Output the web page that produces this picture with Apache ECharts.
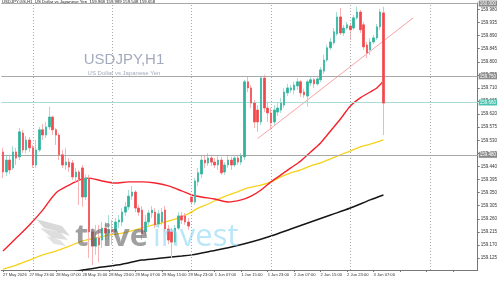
<!DOCTYPE html>
<html><head><meta charset="utf-8">
<script src="https://cdn.jsdelivr.net/npm/echarts@6/dist/echarts.min.js"></script>
<style>html,body{margin:0;padding:0;background:#fff}#c{width:500px;height:281px}</style>
</head><body><div id="c"></div>
<script>
// ---- data ----
const timeLabels = ['27 May 2026','27 May 23:00','28 May 07:00','28 May 15:00','28 May 23:00','29 May 07:00','29 May 15:00','29 May 23:00','1 Jun 07:00','1 Jun 15:00','1 Jun 23:00','2 Jun 07:00','2 Jun 15:00','2 Jun 23:00','3 Jun 07:00'];
const opens = [159.490,159.421,159.462,159.435,159.490,159.473,159.555,159.497,159.531,159.504,
159.445,159.497,159.566,159.548,159.576,159.610,159.566,159.548,159.480,159.445,
159.455,159.452,159.404,159.421,159.435,159.335,159.400,159.215,159.166,159.194,
159.187,159.228,159.211,159.222,159.215,159.249,159.249,159.283,159.301,159.338,
159.352,159.297,159.290,159.215,159.249,159.280,159.283,159.242,159.249,159.290,
159.225,159.215,159.180,159.228,159.270,159.270,159.249,159.335,159.318,159.387,
159.414,159.462,159.452,159.469,159.455,159.445,159.462,159.421,159.445,159.462,
159.445,159.469,159.455,159.473,159.731,159.710,159.658,159.634,159.593,159.744,
159.641,159.624,159.593,159.627,159.634,159.651,159.693,159.703,159.703,159.717,
159.731,159.696,159.682,159.727,159.738,159.724,159.738,159.768,159.806,159.848,
159.865,159.896,159.954,159.899,159.916,159.923,159.916,159.951,159.971,159.927,
159.858,159.841,159.868,159.882,159.920,159.968];
const closes = [159.421,159.462,159.428,159.490,159.469,159.559,159.497,159.531,159.504,159.445,
159.497,159.566,159.548,159.576,159.610,159.566,159.548,159.480,159.445,159.455,
159.438,159.404,159.421,159.394,159.335,159.400,159.215,159.166,159.194,159.170,
159.228,159.211,159.222,159.215,159.249,159.256,159.283,159.301,159.338,159.352,
159.297,159.283,159.208,159.249,159.280,159.290,159.239,159.277,159.283,159.225,
159.187,159.180,159.228,159.270,159.256,159.249,159.235,159.318,159.390,159.418,
159.462,159.452,159.469,159.455,159.445,159.462,159.418,159.445,159.462,159.445,
159.469,159.455,159.476,159.731,159.710,159.658,159.593,159.593,159.744,159.641,
159.624,159.590,159.634,159.641,159.658,159.696,159.710,159.710,159.720,159.731,
159.693,159.686,159.731,159.738,159.724,159.741,159.772,159.806,159.848,159.868,
159.903,159.954,159.899,159.916,159.927,159.910,159.951,159.971,159.910,159.851,
159.830,159.868,159.882,159.920,159.971,159.658];
const lows = [159.400,159.407,159.414,159.428,159.445,159.462,159.486,159.486,159.490,159.435,
159.435,159.490,159.531,159.538,159.566,159.548,159.514,159.462,159.435,159.428,
159.421,159.394,159.387,159.308,159.301,159.325,159.125,159.101,159.136,159.111,
159.160,159.187,159.187,159.170,159.201,159.228,159.235,159.270,159.290,159.325,
159.283,159.270,159.187,159.201,159.239,159.263,159.228,159.228,159.239,159.215,
159.173,159.125,159.170,159.222,159.242,159.239,159.222,159.308,159.308,159.373,
159.400,159.435,159.442,159.442,159.435,159.428,159.411,159.411,159.435,159.428,
159.438,159.445,159.445,159.462,159.696,159.641,159.572,159.559,159.583,159.627,
159.593,159.566,159.583,159.614,159.624,159.641,159.682,159.693,159.689,159.703,
159.679,159.676,159.645,159.717,159.710,159.717,159.731,159.758,159.799,159.841,
159.858,159.889,159.892,159.889,159.910,159.875,159.910,159.944,159.899,159.841,
159.813,159.824,159.861,159.875,159.910,159.548];
const highs = [159.504,159.480,159.480,159.510,159.504,159.572,159.566,159.545,159.541,159.514,
159.531,159.576,159.586,159.593,159.645,159.614,159.572,159.555,159.497,159.504,
159.469,159.462,159.435,159.428,159.445,159.411,159.411,159.228,159.239,159.239,
159.249,159.249,159.273,159.256,159.263,159.273,159.297,159.318,159.359,159.373,
159.359,159.308,159.304,159.273,159.290,159.304,159.297,159.290,159.297,159.304,
159.239,159.228,159.239,159.283,159.283,159.280,159.263,159.342,159.400,159.435,
159.480,159.480,159.486,159.480,159.469,159.480,159.473,159.455,159.480,159.473,
159.480,159.480,159.486,159.738,159.751,159.720,159.669,159.651,159.751,159.755,
159.662,159.641,159.651,159.658,159.676,159.710,159.724,159.720,159.731,159.744,
159.738,159.707,159.738,159.751,159.744,159.751,159.782,159.824,159.858,159.882,
159.916,159.971,159.985,159.927,159.937,159.930,159.961,159.989,159.978,159.937,
159.868,159.882,159.892,159.930,159.982,159.989];

// moving averages: [bar index, value]
const maRed = [[0,159.149],[4,159.194],[8,159.239],[12,159.290],[16,159.349],[20,159.376],[24,159.397],[26,159.400],[30,159.390],[34,159.383],[38,159.387],[42,159.387],[46,159.383],[50,159.373],[54,159.356],[57,159.342],[60,159.335],[64,159.328],[68,159.318],[72,159.325],[75,159.338],[78,159.359],[81,159.387],[84,159.411],[87,159.435],[90,159.459],[93,159.490],[96,159.521],[99,159.562],[102,159.603],[105,159.648],[108,159.676],[111,159.696],[113,159.710],[115,159.734]];
const maYellow = [[0,159.087],[4,159.101],[8,159.118],[12,159.136],[16,159.149],[20,159.166],[24,159.184],[28,159.194],[32,159.204],[36,159.211],[40,159.222],[44,159.235],[48,159.246],[52,159.259],[56,159.277],[59,159.297],[62,159.311],[66,159.332],[70,159.349],[74,159.366],[78,159.376],[81,159.387],[84,159.404],[87,159.418],[90,159.428],[93,159.442],[96,159.452],[99,159.466],[102,159.480],[105,159.493],[108,159.507],[111,159.517],[115,159.531]];
const maBlack = [[21,159.077],[24,159.084],[30,159.094],[36,159.104],[42,159.118],[48,159.125],[54,159.132],[57,159.136],[63,159.149],[69,159.163],[75,159.180],[81,159.201],[87,159.225],[93,159.249],[99,159.273],[105,159.297],[111,159.325],[115,159.342]];

const trendLine = [[77,159.536],[124,159.951]];
const levelLines = [159.999, 159.751, 159.483];
const bidLine = 159.658;
const daySeparators = [9,33,57,81,105,129];
const priceTicks = [159.125,159.170,159.215,159.260,159.305,159.350,159.395,159.440,159.485,159.530,159.575,159.620,159.665,159.710,159.755,159.800,159.845,159.890,159.935,159.980];
const headerText = 'USDJPY.GS,H1  US Dollar vs Japanese Yen  159.968 159.989 159.548 159.658';

// ---- build ----
const N = 144;
const cats = [];
for (let i = 0; i < N; i++) cats.push(String(i));
const candleData = opens.map((o, i) => [o, closes[i], lows[i], highs[i]]);
const bodyData = opens.map((o, i) => [o, closes[i], Math.min(o, closes[i]), Math.max(o, closes[i])]);

const FONT = 'Liberation Sans';
const chart = echarts.init(document.getElementById('c'), null, {renderer: 'canvas'});
chart.setOption({
  animation: false,
  backgroundColor: '#ffffff',
  grid: {left: 0, right: 22, top: 3, bottom: 11},
  xAxis: {
    type: 'category', data: cats, boundaryGap: true,
    axisLine: {lineStyle: {color: '#777', width: 1}},
    axisTick: {show: true, interval: 7, alignWithLabel: true, length: 2, lineStyle: {color: '#777'}},
    axisLabel: {interval: 7, showMinLabel: true, hideOverlap: false, align: 'left', margin: 3, fontSize: 4.1, color: '#333', fontFamily: FONT,
      formatter: (v, idx) => (idx % 8 === 0 && timeLabels[idx / 8]) ? timeLabels[idx / 8] : ''},
    splitLine: {show: false}
  },
  yAxis: {
    type: 'value', position: 'right', min: 159.084, max: 160.002,
    axisLine: {show: true, lineStyle: {color: '#777', width: 1}},
    axisTick: {show: true, length: 2, customValues: priceTicks, lineStyle: {color: '#777'}},
    axisLabel: {customValues: priceTicks, hideOverlap: false, fontSize: 4.5, margin: 3, color: '#333', fontFamily: FONT,
      formatter: v => v.toFixed(3)},
    splitLine: {show: false}
  },
  graphic: [
    {type: 'text', left: 2, top: 0, z: 100, style: {text: headerText, fontSize: 4.3, fill: '#222', fontFamily: FONT}},
    {type: 'text', x: 124, y: 60, z: -1, style: {text: 'USDJPY,H1', fontSize: 15, fill: '#a2abbd', fontFamily: 'Liberation Sans', align: 'center', verticalAlign: 'middle'}},
    {type: 'text', x: 124, y: 73, z: -1, style: {text: 'US Dollar vs Japanese Yen', fontSize: 6, fill: '#a2abbd', fontFamily: 'Liberation Sans', align: 'center', verticalAlign: 'middle'}},
    {type: 'text', x: 75, y: 237, z: 50, style: {text: 'trive', fontSize: 31, fontWeight: 'bold', fill: 'rgba(100,100,100,0.62)', fontFamily: 'Open Sans', verticalAlign: 'middle'}},
    {type: 'text', x: 153, y: 237, z: 50, style: {text: 'invest', fontSize: 31, fontWeight: 400, fill: 'rgba(130,210,245,0.55)', fontFamily: 'Open Sans', verticalAlign: 'middle'}},
    {type: 'polygon', z: 50, shape: {points: [[36,219],[62,226],[70,236],[56,231],[44,228]]}, style: {fill: 'rgba(160,160,160,0.4)'}},
    {type: 'polygon', z: 50, shape: {points: [[40,228],[60,232],[68,240],[52,238]]}, style: {fill: 'rgba(160,160,160,0.35)'}},
    {type: 'polygon', z: 50, shape: {points: [[46,236],[60,240],[66,246],[54,244]]}, style: {fill: 'rgba(160,160,160,0.3)'}}
  ],
  series: [
    {
      type: 'line', data: [], silent: true,
      markLine: {
        silent: true, symbol: 'none', animation: false,
        lineStyle: {color: '#aaa', type: [1, 2], width: 1},
        label: {show: false},
        data: daySeparators.map(d => ({xAxis: d}))
      }
    },
    {
      type: 'line', data: [], silent: true,
      markLine: {
        silent: true, symbol: 'none', animation: false,
        lineStyle: {color: '#a8a8a8', type: 'solid', width: 1},
        label: {show: true, position: 'end', distance: 1, fontSize: 4.5, color: '#fff', backgroundColor: '#8a8a8a',
          padding: [1, 1, 0, 1], fontFamily: FONT, formatter: p => p.value.toFixed(3)},
        data: levelLines.map(v => ({yAxis: v}))
      }
    },
    {
      type: 'line', data: [], silent: true,
      markLine: {
        silent: true, symbol: 'none', animation: false,
        lineStyle: {color: '#a9dcd6', type: 'solid', width: 1},
        label: {show: true, position: 'end', distance: 1, fontSize: 4.5, color: '#fff', backgroundColor: '#49c2ad',
          padding: [1, 1, 0, 1], fontFamily: FONT, formatter: p => p.value.toFixed(3)},
        data: [{yAxis: bidLine}]
      }
    },
    {type: 'line', data: maBlack, smooth: 0.3, showSymbol: false, lineStyle: {color: '#151515', width: 1.5}, z: 3},
    {type: 'line', data: maYellow, smooth: 0.3, showSymbol: false, lineStyle: {color: '#f7d21c', width: 1.3}, z: 3},
    {type: 'line', data: maRed, smooth: 0.3, showSymbol: false, lineStyle: {color: '#f5222d', width: 1.4}, z: 3},
    {type: 'line', data: trendLine, showSymbol: false, lineStyle: {color: '#f7a3a6', width: 1}, z: 3},
    {
      type: 'candlestick', data: candleData, barWidth: 2, z: 4,
      itemStyle: {color: '#a6ddd3', color0: '#f7b4b6', borderColor: '#a6ddd3', borderColor0: '#f7b4b6', borderWidth: 1}
    },
    {
      type: 'candlestick', data: bodyData, barWidth: 2, z: 5,
      itemStyle: {color: '#2bb39b', color0: '#f2464b', borderColor: '#2bb39b', borderColor0: '#f2464b', borderWidth: 0.5}
    }
  ]
});
</script>
</body></html>
